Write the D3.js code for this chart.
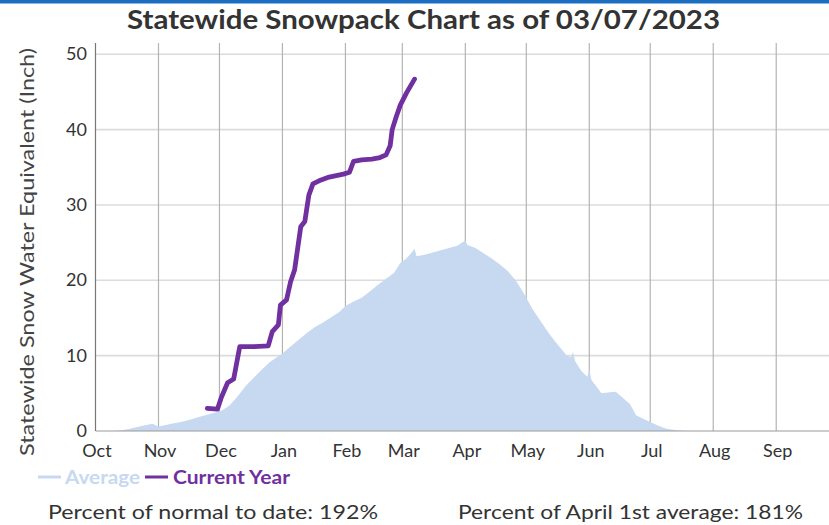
<!DOCTYPE html>
<html><head><meta charset="utf-8">
<script src="https://cdn.jsdelivr.net/npm/d3@7"></script>
<style>
body{margin:0;background:#fff;}
svg{display:block;font-family:"Source Sans Pro",Lato,"Open Sans",sans-serif;}
</style></head><body>
<svg id="c" width="829" height="525"></svg>
<script>
const titleText = "Statewide Snowpack Chart as of 03/07/2023";
const yTitle = "Statewide Snow Water Equivalent (Inch)";
const monthLabels = ["Oct","Nov","Dec","Jan","Feb","Mar","Apr","May","Jun","Jul","Aug","Sep"];
const yTicks = [0,10,20,30,40,50];
const legendLabels = ["Average","Current Year"];
const footLeft = "Percent of normal to date: 192%";
const footRight = "Percent of April 1st average: 181%";

const avgDates = ["2022-10-01","2022-10-10","2022-10-14","2022-10-18","2022-10-22","2022-10-26","2022-10-29","2022-11-01","2022-11-04","2022-11-08","2022-11-12","2022-11-16","2022-11-20","2022-11-24","2022-11-28","2022-12-02","2022-12-06","2022-12-10","2022-12-14","2022-12-18","2022-12-22","2022-12-26","2023-01-01","2023-01-05","2023-01-09","2023-01-13","2023-01-17","2023-01-21","2023-01-25","2023-01-29","2023-02-01","2023-02-05","2023-02-09","2023-02-13","2023-02-17","2023-02-21","2023-02-25","2023-02-28","2023-03-03","2023-03-05","2023-03-07","2023-03-08","2023-03-12","2023-03-16","2023-03-20","2023-03-24","2023-03-28","2023-04-01","2023-04-02","2023-04-06","2023-04-10","2023-04-14","2023-04-18","2023-04-22","2023-04-26","2023-04-30","2023-05-04","2023-05-08","2023-05-12","2023-05-16","2023-05-21","2023-05-23","2023-05-24","2023-05-25","2023-05-28","2023-05-31","2023-06-01","2023-06-02","2023-06-07","2023-06-10","2023-06-14","2023-06-17","2023-06-21","2023-06-24","2023-06-27","2023-07-01","2023-07-05","2023-07-09","2023-07-14","2023-07-19","2023-08-01","2023-09-30"];
const avgSWE = [0,0,0.1,0.3,0.55,0.8,0.95,0.6,0.75,1.0,1.2,1.45,1.8,2.1,2.4,2.7,3.4,4.6,6.0,7.1,8.2,9.2,10.3,11.2,12.1,13.0,13.8,14.4,15.1,15.8,16.6,17.2,17.7,18.5,19.4,20.2,21.0,22.3,22.9,23.5,24.2,23.2,23.4,23.7,24.0,24.3,24.6,25.3,24.7,24.3,23.6,22.9,22.1,21.2,19.9,18.2,16.2,14.6,13.0,11.6,10.0,9.8,10.5,9.3,8.0,7.2,8.2,6.8,5.0,5.1,5.2,4.5,3.6,2.1,1.7,1.2,0.7,0.3,0.1,0,0,0];

const curDates = ["2022-11-25","2022-11-30","2022-12-02","2022-12-05","2022-12-08","2022-12-11","2022-12-18","2022-12-25","2022-12-27","2022-12-30","2022-12-31","2023-01-03","2023-01-05","2023-01-07","2023-01-10","2023-01-12","2023-01-14","2023-01-16","2023-01-19","2023-01-24","2023-01-31","2023-02-03","2023-02-05","2023-02-09","2023-02-14","2023-02-18","2023-02-21","2023-02-23","2023-02-24","2023-02-26","2023-02-28","2023-03-03","2023-03-07"];
const curSWE = [3.0,2.9,4.5,6.4,6.9,11.2,11.2,11.3,13.2,14.1,16.7,17.4,19.8,21.4,27.1,27.8,31.3,32.8,33.2,33.7,34.1,34.35,35.8,36.0,36.1,36.3,36.65,37.85,40.0,41.7,43.25,44.85,46.7];

const parse = d3.timeParse("%Y-%m-%d");
const avg = avgDates.map((d,i)=>({date:parse(d),v:avgSWE[i]}));
const cur = curDates.map((d,i)=>({date:parse(d),v:curSWE[i]}));

const svg = d3.select("#c");
const W = 829, H = 525;
const pL = 95.5, pT = 43, pB = 431;
const x = d3.scaleTime().domain([parse("2022-10-01"), parse("2023-10-01")]).range([pL, pL + 365*2.032]);
const y = d3.scaleLinear().domain([0, 51.5]).range([pB, pT]);

svg.append("rect").attr("x",0).attr("y",0).attr("width",W).attr("height",3.5).attr("fill","#1b6ec2");

svg.append("text").attr("x",127).attr("y",29)
  .attr("font-size",27).attr("font-weight","bold").attr("fill","#333")
  .attr("textLength",593).attr("lengthAdjust","spacingAndGlyphs").text(titleText);

svg.append("defs").append("clipPath").attr("id","clip").append("rect")
  .attr("x",pL).attr("y",pT-1).attr("width",W-pL).attr("height",pB-pT+2);

const g = svg.append("g").attr("clip-path","url(#clip)");

g.selectAll("line.h").data(yTicks.filter(t=>t>0)).join("line")
  .attr("x1",pL).attr("x2",W).attr("y1",d=>y(d)).attr("y2",d=>y(d))
  .attr("stroke","#dcdcdc").attr("stroke-width",1.6);

const months = d3.timeMonth.range(parse("2022-10-01"), parse("2023-10-01"));
g.selectAll("line.v").data(months.slice(1)).join("line")
  .attr("x1",d=>x(d)).attr("x2",d=>x(d)).attr("y1",pT).attr("y2",pB)
  .attr("stroke","#b4b4b4").attr("stroke-width",1.2);

g.append("path").datum(avg)
  .attr("d", d3.area().x(d=>x(d.date)).y0(y(0)).y1(d=>y(d.v)))
  .attr("fill","#c6d9f0");

g.append("line").attr("x1",pL).attr("x2",W).attr("y1",y(0)).attr("y2",y(0))
  .attr("stroke","#9a9a9a").attr("stroke-width",1.2);

g.append("path").datum(cur)
  .attr("d", d3.line().x(d=>x(d.date)).y(d=>y(d.v)))
  .attr("fill","none").attr("stroke","#7030a0").attr("stroke-width",4.8)
  .attr("stroke-linejoin","round").attr("stroke-linecap","round");

svg.append("line").attr("x1",pL).attr("x2",pL).attr("y1",pT).attr("y2",pB)
  .attr("stroke","#777").attr("stroke-width",1.2);

svg.selectAll("text.yt").data(yTicks).join("text").attr("class","yt")
  .attr("x",87).attr("y",d=>y(d)+6).attr("text-anchor","end")
  .attr("font-size",18).attr("fill","#333").text(d=>d);

svg.selectAll("text.xt").data(months).join("text").attr("class","xt")
  .attr("x",d=>x(d)+1.5).attr("y",457).attr("text-anchor","middle")
  .attr("font-size",18).attr("fill","#333").text((d,i)=>monthLabels[i]);

svg.append("text").attr("transform","translate(34,252) rotate(-90)")
  .attr("text-anchor","middle").attr("font-size",20).attr("fill","#444")
  .attr("textLength",408).attr("lengthAdjust","spacingAndGlyphs").text(yTitle);

const legColors = ["#c6d9f0","#7030a0"];
const legX = [38,145];
const legTextW = [75,117];
const leg = svg.selectAll("g.leg").data(legendLabels).join("g").attr("class","leg")
  .attr("transform",(d,i)=>`translate(${legX[i]},477)`);
leg.append("line").attr("x1",0).attr("x2",23).attr("y1",0).attr("y2",0)
  .attr("stroke",(d,i)=>legColors[i]).attr("stroke-width",3);
leg.append("text").attr("x",(d,i)=>i===0?27:28).attr("y",7)
  .attr("font-size",19).attr("font-weight","bold").attr("fill",(d,i)=>legColors[i])
  .attr("textLength",(d,i)=>legTextW[i]).attr("lengthAdjust","spacingAndGlyphs").text(d=>d);

svg.append("text").attr("x",48).attr("y",519).attr("font-size",20).attr("fill","#333")
  .attr("textLength",330).attr("lengthAdjust","spacingAndGlyphs").text(footLeft);
svg.append("text").attr("x",458).attr("y",519).attr("font-size",20).attr("fill","#333")
  .attr("textLength",345).attr("lengthAdjust","spacingAndGlyphs").text(footRight);
</script>
</body></html>
